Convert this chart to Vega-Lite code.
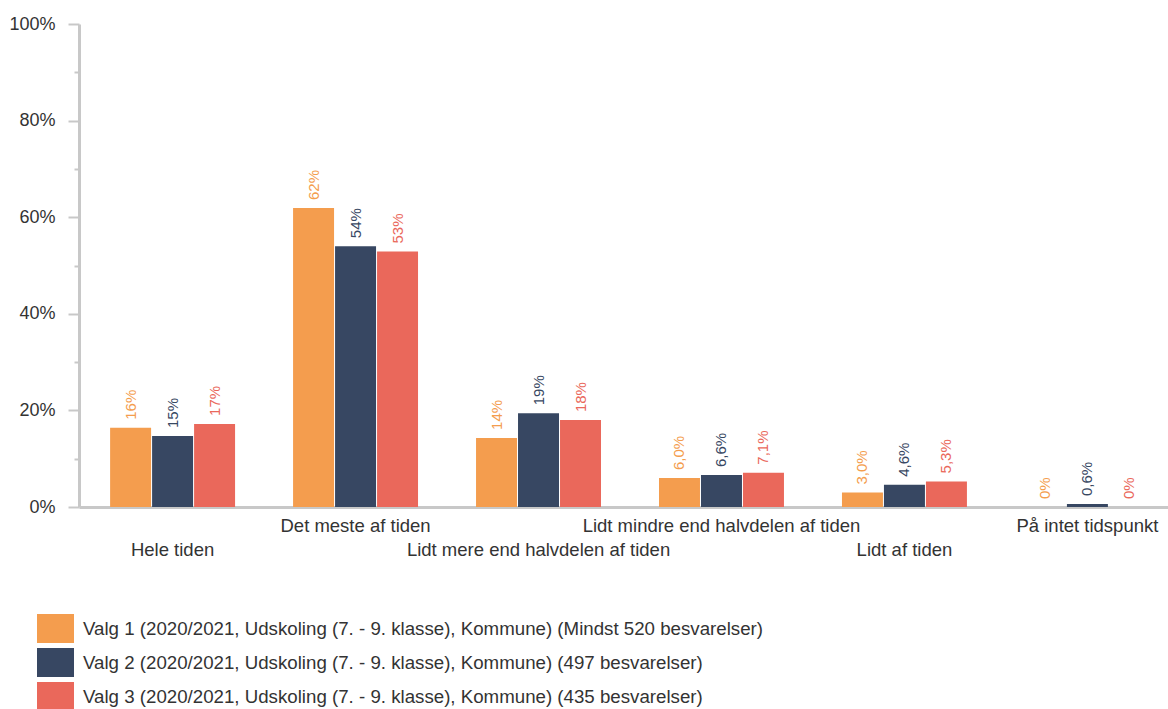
{
  "$schema": "https://vega.github.io/schema/vega-lite/v6.json",
  "width": 1102,
  "height": 483,
  "autosize": {"type": "none"},
  "padding": {"left": 79, "top": 24, "right": -13, "bottom": 202},
  "config": {"view": {"stroke": null}, "font": "Liberation Sans"},
  "data": {"values": [
    {"cat": "Hele tiden", "serie": "Valg 1 (2020/2021, Udskoling (7. - 9. klasse), Kommune) (Mindst 520 besvarelser)", "value": 16.4, "label": "16%"},
    {"cat": "Hele tiden", "serie": "Valg 2 (2020/2021, Udskoling (7. - 9. klasse), Kommune) (497 besvarelser)", "value": 14.7, "label": "15%"},
    {"cat": "Hele tiden", "serie": "Valg 3 (2020/2021, Udskoling (7. - 9. klasse), Kommune) (435 besvarelser)", "value": 17.2, "label": "17%"},
    {"cat": "Det meste af tiden", "serie": "Valg 1 (2020/2021, Udskoling (7. - 9. klasse), Kommune) (Mindst 520 besvarelser)", "value": 61.9, "label": "62%"},
    {"cat": "Det meste af tiden", "serie": "Valg 2 (2020/2021, Udskoling (7. - 9. klasse), Kommune) (497 besvarelser)", "value": 54.0, "label": "54%"},
    {"cat": "Det meste af tiden", "serie": "Valg 3 (2020/2021, Udskoling (7. - 9. klasse), Kommune) (435 besvarelser)", "value": 52.9, "label": "53%"},
    {"cat": "Lidt mere end halvdelen af tiden", "serie": "Valg 1 (2020/2021, Udskoling (7. - 9. klasse), Kommune) (Mindst 520 besvarelser)", "value": 14.3, "label": "14%"},
    {"cat": "Lidt mere end halvdelen af tiden", "serie": "Valg 2 (2020/2021, Udskoling (7. - 9. klasse), Kommune) (497 besvarelser)", "value": 19.4, "label": "19%"},
    {"cat": "Lidt mere end halvdelen af tiden", "serie": "Valg 3 (2020/2021, Udskoling (7. - 9. klasse), Kommune) (435 besvarelser)", "value": 18.0, "label": "18%"},
    {"cat": "Lidt mindre end halvdelen af tiden", "serie": "Valg 1 (2020/2021, Udskoling (7. - 9. klasse), Kommune) (Mindst 520 besvarelser)", "value": 6.0, "label": "6,0%"},
    {"cat": "Lidt mindre end halvdelen af tiden", "serie": "Valg 2 (2020/2021, Udskoling (7. - 9. klasse), Kommune) (497 besvarelser)", "value": 6.6, "label": "6,6%"},
    {"cat": "Lidt mindre end halvdelen af tiden", "serie": "Valg 3 (2020/2021, Udskoling (7. - 9. klasse), Kommune) (435 besvarelser)", "value": 7.1, "label": "7,1%"},
    {"cat": "Lidt af tiden", "serie": "Valg 1 (2020/2021, Udskoling (7. - 9. klasse), Kommune) (Mindst 520 besvarelser)", "value": 3.0, "label": "3,0%"},
    {"cat": "Lidt af tiden", "serie": "Valg 2 (2020/2021, Udskoling (7. - 9. klasse), Kommune) (497 besvarelser)", "value": 4.6, "label": "4,6%"},
    {"cat": "Lidt af tiden", "serie": "Valg 3 (2020/2021, Udskoling (7. - 9. klasse), Kommune) (435 besvarelser)", "value": 5.3, "label": "5,3%"},
    {"cat": "På intet tidspunkt", "serie": "Valg 1 (2020/2021, Udskoling (7. - 9. klasse), Kommune) (Mindst 520 besvarelser)", "value": 0, "label": "0%"},
    {"cat": "På intet tidspunkt", "serie": "Valg 2 (2020/2021, Udskoling (7. - 9. klasse), Kommune) (497 besvarelser)", "value": 0.6, "label": "0,6%"},
    {"cat": "På intet tidspunkt", "serie": "Valg 3 (2020/2021, Udskoling (7. - 9. klasse), Kommune) (435 besvarelser)", "value": 0, "label": "0%"}
  ]},
  "encoding": {
    "x": {
      "field": "cat", "type": "nominal",
      "sort": ["Hele tiden", "Det meste af tiden", "Lidt mere end halvdelen af tiden", "Lidt mindre end halvdelen af tiden", "Lidt af tiden", "På intet tidspunkt"],
      "scale": {"paddingInner": 0.317, "paddingOuter": 0.17},
      "axis": {
        "title": null, "labelAngle": 0, "ticks": false,
        "domainColor": "#c8c8c8", "domainWidth": 3,
        "labelFontSize": 18.5, "labelColor": "#333333", "labelPadding": 9,
        "labelLineHeight": 24, "labelOverlap": false, "labelLimit": 1000,
        "labelExpr": "indexof(['Hele tiden','Lidt mere end halvdelen af tiden','Lidt af tiden'], datum.value) >= 0 ? ['', datum.label] : datum.label"
      }
    },
    "xOffset": {
      "field": "serie", "type": "nominal",
      "scale": {"paddingInner": 0.024, "paddingOuter": 0}
    },
    "y": {
      "field": "value", "type": "quantitative",
      "scale": {"domain": [0, 100]},
      "axis": {
        "title": null, "grid": false,
        "values": [0, 10, 20, 30, 40, 50, 60, 70, 80, 90, 100],
        "labelExpr": "datum.value % 20 === 0 ? datum.value + '%' : ''",
        "tickSize": {"condition": {"test": "datum.value % 20 === 0", "value": 11}, "value": 5},
        "tickColor": "#c8c8c8", "tickWidth": 2,
        "domainColor": "#c8c8c8", "domainWidth": 3,
        "labelFontSize": 18, "labelColor": "#333333", "labelPadding": 13,
        "labelOverlap": false
      }
    },
    "color": {
      "field": "serie", "type": "nominal",
      "scale": {
        "domain": [
          "Valg 1 (2020/2021, Udskoling (7. - 9. klasse), Kommune) (Mindst 520 besvarelser)",
          "Valg 2 (2020/2021, Udskoling (7. - 9. klasse), Kommune) (497 besvarelser)",
          "Valg 3 (2020/2021, Udskoling (7. - 9. klasse), Kommune) (435 besvarelser)"
        ],
        "range": ["#F49D4E", "#374762", "#EA685B"]
      },
      "legend": {
        "title": null, "orient": "none", "legendX": -42, "legendY": 586,
        "direction": "vertical",
        "symbolType": "M-1,-0.784L1,-0.784L1,0.784L-1,0.784Z",
        "symbolSize": 1369, "symbolStrokeWidth": 0,
        "labelFontSize": 18.7, "labelColor": "#333333", "labelOffset": 9,
        "labelLimit": 1000, "rowPadding": -1
      }
    }
  },
  "layer": [
    {"mark": {"type": "bar"}},
    {
      "mark": {"type": "text", "angle": 270, "align": "left", "baseline": "middle", "dx": 8, "fontSize": 15},
      "encoding": {"text": {"field": "label"}}
    }
  ]
}
